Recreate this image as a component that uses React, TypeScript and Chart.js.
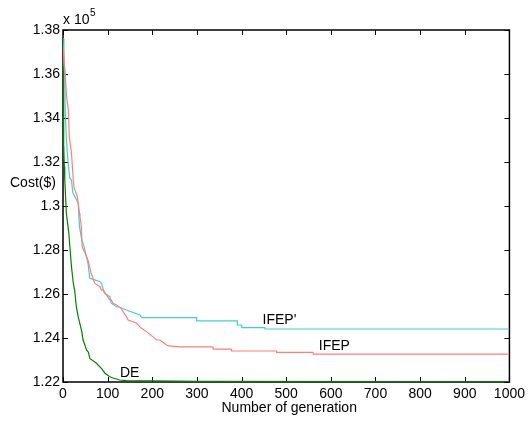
import React, { useEffect, useRef } from "react";
import { Chart, registerables } from "chart.js";

Chart.register(...registerables);

// Generation (x) and cost in $ (y) for each algorithm
const ifepGen = [0, 3, 4.5, 8, 12, 14, 19, 23, 25, 31, 32, 37, 38, 41, 43, 44, 53, 57, 63, 71, 83, 86, 90, 105, 108, 112, 120, 130, 142, 146, 165, 175, 187, 210, 217, 232, 236, 262, 336, 336.5, 377, 377.5, 478, 478.5, 560, 560.5, 1000];
const ifepCost = [137200, 136400, 136180, 134970, 134360, 133150, 132400, 131180, 130820, 130500, 130450, 129670, 129510, 129060, 128150, 128150, 127700, 127470, 126940, 126490, 126330, 126180, 126180, 125730, 125730, 125580, 125500, 125350, 124970, 124820, 124670, 124450, 124290, 123910, 123910, 123680, 123640, 123600, 123600, 123490, 123490, 123410, 123410, 123350, 123350, 123270, 123270];

const ifepPGen = [0, 4, 5, 7.5, 11, 15, 19, 22, 30, 34, 37, 42, 45, 49, 56, 60, 71, 83, 86, 93, 105, 108, 120, 123, 142, 172, 176, 299, 299.5, 390, 390.5, 400, 400.5, 452, 452.5, 1000];
const ifepPCost = [137640, 135820, 134320, 133090, 132050, 131270, 131180, 130600, 130300, 130120, 129060, 128450, 128300, 128000, 127390, 126710, 126640, 126560, 126490, 126030, 125880, 125580, 125420, 125420, 125270, 125050, 124930, 124930, 124780, 124780, 124590, 124590, 124470, 124470, 124410, 124410];

const deGen = [0, 1, 2, 3, 4, 7.5, 13, 19, 23, 26, 30, 34, 42, 45, 53, 57, 60, 75, 86, 94, 105, 112, 127, 142, 157, 200, 300, 1000];
const deCost = [137600, 134500, 132800, 131800, 131180, 129670, 128770, 127240, 126500, 126180, 125400, 124970, 124300, 123910, 123450, 123350, 123070, 122850, 122620, 122400, 122240, 122180, 122090, 122060, 122055, 122050, 122030, 122010];

const xTicks = [0, 100, 200, 300, 400, 500, 600, 700, 800, 900, 1000];
const yTicks = [122000, 124000, 126000, 128000, 130000, 132000, 134000, 136000, 138000];

const seriesLabels = ["IFEP", "IFEP'", "DE"];
const seriesColors = ["rgb(255,125,125)", "rgb(70,205,205)", "rgb(0,128,0)"];
// label anchor positions in data units (generation, cost)
const labelGen = [573, 447, 127.5];
const labelCost = [123636, 124818, 122423];

const FONT = "Arial, 'Liberation Sans', sans-serif";

const toPts = (g: number[], c: number[]) => g.map((x, i) => ({ x, y: c[i] }));

export default function App() {
  const ref = useRef<HTMLCanvasElement | null>(null);
  useEffect(() => {
    if (!ref.current) return;
    const boxPlugin = {
      id: "matlabBox",
      beforeDatasetsDraw(chart: any) {
        const { ctx, chartArea: a, scales } = chart;
        ctx.save();
        ctx.strokeStyle = "#000";
        ctx.lineWidth = 1.5;
        ctx.strokeRect(a.left, a.top, a.right - a.left, a.bottom - a.top);
        ctx.lineWidth = 1;
        ctx.beginPath();
        const tl = 5;
        xTicks.forEach((v) => {
          const px = Math.round(scales.x.getPixelForValue(v)) + 0.5;
          ctx.moveTo(px, a.bottom);
          ctx.lineTo(px, a.bottom - tl);
          ctx.moveTo(px, a.top);
          ctx.lineTo(px, a.top + tl);
        });
        yTicks.forEach((v) => {
          const py = Math.round(scales.y.getPixelForValue(v)) + 0.5;
          ctx.moveTo(a.left, py);
          ctx.lineTo(a.left + tl, py);
          ctx.moveTo(a.right, py);
          ctx.lineTo(a.right - tl, py);
        });
        ctx.stroke();
        ctx.restore();
      },
      afterDraw(chart: any) {
        const { ctx, chartArea: a, scales } = chart;
        ctx.save();
        ctx.fillStyle = "#000";
        ctx.font = `14px ${FONT}`;
        ctx.textBaseline = "middle";
        ctx.textAlign = "left";
        // series labels
        seriesLabels.forEach((t, i) => {
          ctx.fillText(t, scales.x.getPixelForValue(labelGen[i]), scales.y.getPixelForValue(labelCost[i]));
        });
        // y label
        ctx.fillText("Cost($)", 10, 183);
        // x label
        ctx.textAlign = "center";
        ctx.fillText("Number of generation", (a.left + a.right) / 2 + 3, 408);
        // exponent
        ctx.textAlign = "left";
        ctx.fillText("x 10", a.left, 20);
        ctx.font = `10px ${FONT}`;
        ctx.fillText("5", a.left + 27, 13);
        ctx.restore();
      },
    };
    const chart = new Chart(ref.current, {
      type: "line",
      data: {
        datasets: [0, 1, 2].map((i) => ({
          label: seriesLabels[i],
          data: i === 0 ? toPts(ifepGen, ifepCost) : i === 1 ? toPts(ifepPGen, ifepPCost) : toPts(deGen, deCost),
          borderColor: seriesColors[i],
          borderWidth: 1.2,
          pointRadius: 0,
          fill: false,
          tension: 0,
        })),
      },
      options: {
        animation: false,
        responsive: false,
        events: [],
        layout: { padding: { left: 0, top: 30, right: 19, bottom: 0 } },
        plugins: { legend: { display: false }, tooltip: { enabled: false } },
        scales: {
          x: {
            type: "linear",
            min: 0,
            max: 1000,
            afterFit: (s: any) => { s.height = 39; },
            afterBuildTicks: (s: any) => { s.ticks = xTicks.map((v) => ({ value: v })); },
            grid: { display: false, drawTicks: false },
            border: { display: false },
            ticks: {
              color: "#000",
              padding: 4,
              font: { size: 14, family: FONT },
              maxRotation: 0,
              autoSkip: false,
              callback: (v: any) => String(v),
            },
          },
          y: {
            type: "linear",
            min: 122000,
            max: 138000,
            afterFit: (s: any) => { s.width = 63; },
            afterBuildTicks: (s: any) => { s.ticks = yTicks.map((v) => ({ value: v })); },
            grid: { display: false, drawTicks: false },
            border: { display: false },
            ticks: {
              color: "#000",
              padding: 3,
              font: { size: 14, family: FONT },
              autoSkip: false,
              callback: (v: any) => String(Number((Number(v) / 1e5).toFixed(2))),
            },
          },
        },
      },
      plugins: [boxPlugin],
    });
    return () => chart.destroy();
  }, []);
  return (
    <div style={{ position: "absolute", left: 0, top: 0, width: 529, height: 421, background: "#fff" }}>
      <canvas ref={ref} width={529} height={421} style={{ width: 529, height: 421, display: "block" }} />
    </div>
  );
}
